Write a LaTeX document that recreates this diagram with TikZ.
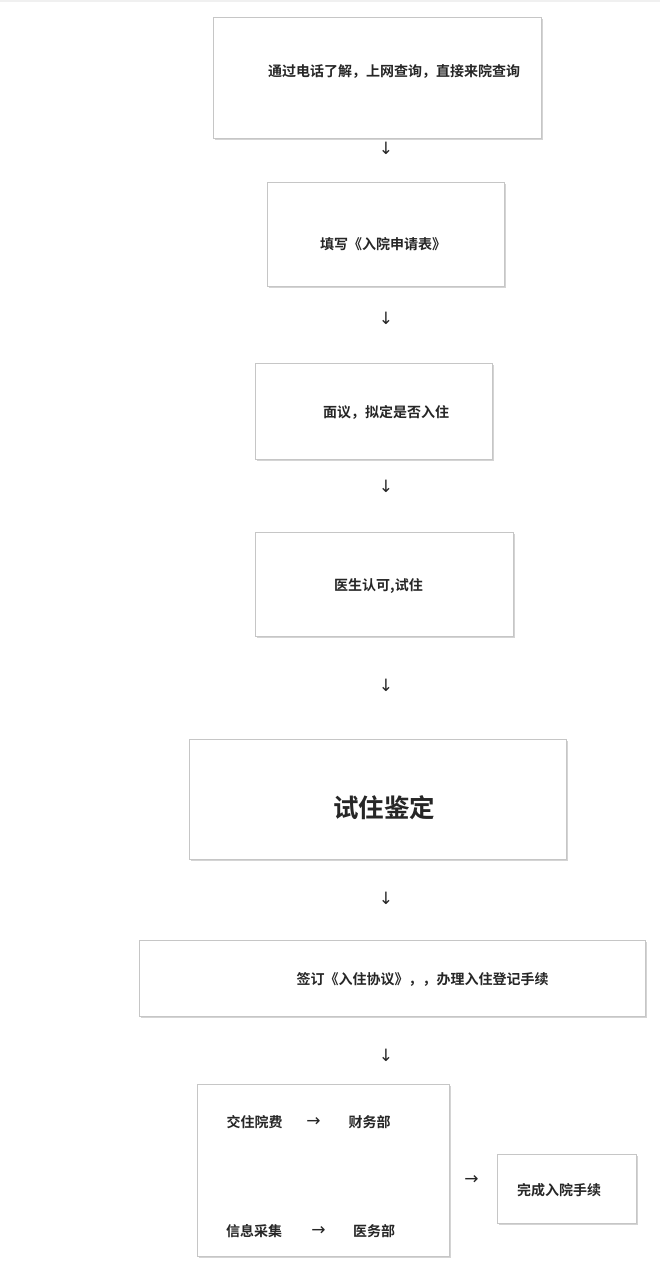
\documentclass[tikz,border=0pt]{standalone}
\usepackage{fontspec}
\setmainfont{Noto Sans CJK SC}[BoldFont={Noto Sans CJK SC Bold}]
\newfontfamily\cjk{Noto Sans CJK SC Bold}
\newfontfamily\arr{DejaVu Sans}
\usetikzlibrary{shadows}
\begin{document}
\begin{tikzpicture}[x=1pt,y=-1pt,
  box/.style={draw=gray!45,line width=0.9pt,fill=white,rectangle,inner sep=0pt,
    drop shadow={shadow xshift=1.6pt,shadow yshift=-1.8pt,fill=gray!60,opacity=0.55}},
  txt/.style={font=\cjk\fontsize{14}{16}\selectfont,text=black!85,inner sep=0pt},
  bigtxt/.style={font=\cjk\fontsize{25.5}{30}\selectfont,text=black!85,inner sep=0pt},
  arrtxt/.style={font=\arr\fontsize{17}{19}\selectfont,text=black!85,inner sep=0pt}]
\useasboundingbox (0,0) rectangle (660,1268);
\fill[white] (0,0) rectangle (660,1268);
\fill[gray!12] (0,0) rectangle (660,2);
% boxes
\node[box,minimum width=328pt,minimum height=121pt] (box1) at (377,77.5) {};
\node[box,minimum width=237pt,minimum height=104pt] (box2) at (385.5,234) {};
\node[box,minimum width=237pt,minimum height=96pt] (box3) at (373.5,411) {};
\node[box,minimum width=258pt,minimum height=104pt] (box4) at (384,584) {};
\node[box,minimum width=377pt,minimum height=120pt] (box5) at (377.5,799) {};
\node[box,minimum width=506pt,minimum height=76pt] (box6) at (392,978) {};
\node[box,minimum width=252pt,minimum height=172pt] (box7) at (323,1170) {};
\node[box,minimum width=139pt,minimum height=69pt] (box8) at (566.5,1188.5) {};
% texts
\node[txt] (t1) at (394,71) {通过电话了解，上网查询，直接来院查询};
\node[txt] (t2) at (383,244) {填写《入院申请表》};
\node[txt] (t3) at (386,412) {面议，拟定是否入住};
\node[txt] (t4) at (378.5,586) {医生认可,试住};
\node[bigtxt] (t5) at (384,808) {试住鉴定};
\node[txt] (t6) at (422.5,979) {签订《入住协议》，，办理入住登记手续};
\node[txt] (t7a) at (254.5,1122) {交住院费};
\node[arrtxt] (a7a) at (313.5,1122) {→};
\node[txt] (t7b) at (369.5,1122) {财务部};
\node[txt] (t7c) at (254,1231) {信息采集};
\node[arrtxt] (a7b) at (318.5,1231) {→};
\node[txt] (t7d) at (374,1231) {医务部};
\node[txt] (t8) at (559,1190) {完成入院手续};
% arrow glyphs between steps
\node[arrtxt] (a1) at (386,148) {↓};
\node[arrtxt] (a2) at (386,318) {↓};
\node[arrtxt] (a3) at (386,486) {↓};
\node[arrtxt] (a4) at (386,685) {↓};
\node[arrtxt] (a5) at (386,898) {↓};
\node[arrtxt] (a6) at (386,1055) {↓};
\node[arrtxt] (a7) at (471.5,1180) {→};
\end{tikzpicture}
\end{document}
